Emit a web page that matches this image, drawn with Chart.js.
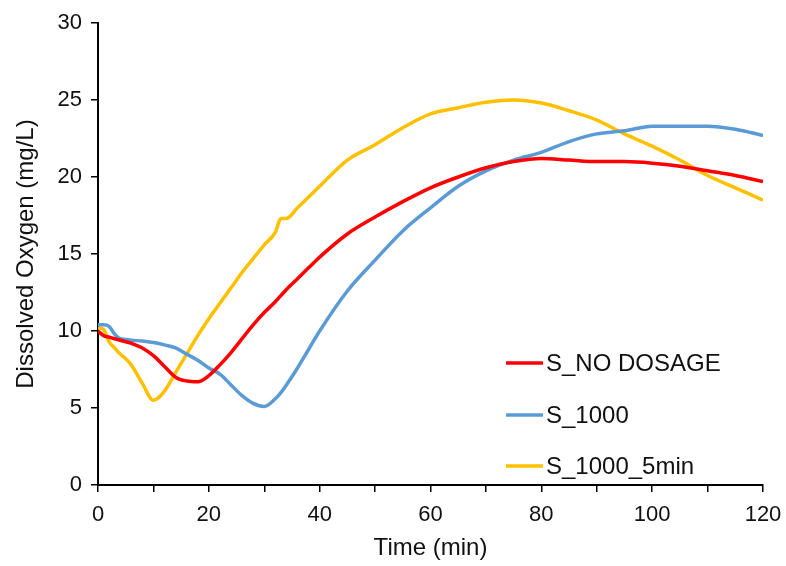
<!DOCTYPE html>
<html>
<head>
<meta charset="utf-8">
<script src="https://cdn.jsdelivr.net/npm/chart.js@4.4.1/dist/chart.umd.min.js"></script>
<style>
  html, body { margin: 0; padding: 0; background: #fff; }
  #wrap { width: 786px; height: 566px; }
</style>
</head>
<body>
<div id="wrap"><canvas id="chart" width="786" height="566"></canvas></div>
<script>
// time (min) shared by all series
const times = [0, 1, 2, 3, 4, 5, 6, 8, 10, 12, 14, 16, 18, 20, 22, 24, 26, 28, 30, 32, 33, 34, 36, 38, 40,
  45, 50, 55, 60, 65, 70, 75, 80, 85, 90, 95, 100, 105, 110, 115, 120];

const noDosage = [10.0, 9.7, 9.6, 9.5, 9.4, 9.3, 9.2, 8.9, 8.4, 7.7, 7.0, 6.75, 6.7, 7.1, 7.8, 8.6, 9.5, 10.4, 11.2, 11.9, 12.3, 12.7, 13.4, 14.1, 14.8,
  16.3, 17.4, 18.4, 19.3, 20.0, 20.6, 21.0, 21.2, 21.1, 21.0, 21.0, 20.9, 20.7, 20.4, 20.1, 19.7];

const s1000 = [10.4, 10.4, 10.3, 9.8, 9.5, 9.45, 9.4, 9.35, 9.25, 9.1, 8.9, 8.5, 8.1, 7.6, 7.2, 6.5, 5.8, 5.3, 5.1, 5.6, 6.0, 6.5, 7.6, 8.8, 10.0,
  12.6, 14.6, 16.5, 18.0, 19.4, 20.4, 21.1, 21.6, 22.3, 22.8, 23.0, 23.3, 23.3, 23.3, 23.1, 22.7];

const s1000_5min = [10.2, 10.1, 9.3, 8.9, 8.5, 8.2, 7.8, 6.6, 5.5, 6.1, 7.3, 8.5, 9.7, 10.8, 11.8, 12.8, 13.8, 14.7, 15.6, 16.4, 17.3, 17.3, 18.0, 18.7, 19.4,
  21.1, 22.1, 23.2, 24.1, 24.5, 24.85, 25.0, 24.8, 24.3, 23.7, 22.8, 22.0, 21.1, 20.1, 19.3, 18.5];

const seriesLabels = ['S_NO DOSAGE', 'S_1000', 'S_1000_5min'];
const seriesColors = ['#FF0000', '#5B9BD5', '#FFC000'];

const FONT = '"Liberation Sans", Arial, sans-serif';

function points(values) {
  return times.map((t, i) => ({ x: t, y: values[i] }));
}

// legend drawn inside the plot, lower right
const insideLegend = {
  id: 'insideLegend',
  afterDatasetsDraw(chart) {
    const { ctx } = chart;
    const x0 = 506;
    const rows = [363, 415, 466];
    ctx.save();
    ctx.font = `24px ${FONT}`;
    ctx.textBaseline = 'middle';
    chart.data.datasets.forEach((ds, i) => {
      ctx.strokeStyle = ds.borderColor;
      ctx.lineWidth = 3.5;
      ctx.beginPath();
      ctx.moveTo(x0, rows[i]);
      ctx.lineTo(x0 + 37, rows[i]);
      ctx.stroke();
      ctx.fillStyle = '#111';
      ctx.fillText(ds.label, x0 + 40, rows[i] + 1);
    });
    ctx.restore();
  },
};

const axisCommon = {
  type: 'linear',
  grid: {
    display: true,
    drawOnChartArea: false,
    drawTicks: true,
    tickLength: 7,
    color: '#000',
    lineWidth: 1.5,
  },
  border: { display: true, color: '#000', width: 2 },
};

new Chart(document.getElementById('chart'), {
  type: 'line',
  data: {
    datasets: [noDosage, s1000, s1000_5min].map((vals, i) => ({
      label: seriesLabels[i],
      data: points(vals),
      borderColor: seriesColors[i],
      backgroundColor: seriesColors[i],
      borderWidth: 3.5,
      pointRadius: 0,
      cubicInterpolationMode: 'monotone',
    })),
  },
  options: {
    responsive: false,
    animation: false,
    layout: { padding: { left: 12, right: 23, top: 23, bottom: 0 } },
    plugins: {
      legend: { display: false },
      tooltip: { enabled: false },
    },
    scales: {
      x: {
        ...axisCommon,
        min: 0,
        max: 120,
        afterFit(scale) {
          scale.height = 81;
          scale.paddingLeft = 0;
          scale.paddingRight = 0;
        },
        ticks: {
          stepSize: 10,
          autoSkip: false,
          maxRotation: 0,
          color: '#111',
          font: { family: FONT, size: 22, lineHeight: 1 },
          padding: 12,
          callback: (v) => (v % 20 === 0 ? v : ''),
        },
        title: {
          display: true,
          text: 'Time (min)',
          color: '#111',
          font: { family: FONT, size: 24 },
          padding: { top: 0, bottom: 3 },
        },
      },
      y: {
        ...axisCommon,
        min: 0,
        max: 30,
        afterFit(scale) {
          scale.width = 86;
          scale.paddingTop = 0;
          scale.paddingBottom = 0;
        },
        ticks: {
          stepSize: 5,
          color: '#111',
          font: { family: FONT, size: 22 },
          padding: 9,
        },
        title: {
          display: true,
          text: 'Dissolved Oxygen (mg/L)',
          color: '#111',
          font: { family: FONT, size: 24 },
          padding: { top: 0, bottom: 8 },
        },
      },
    },
  },
  plugins: [insideLegend],
});
</script>
</body>
</html>
